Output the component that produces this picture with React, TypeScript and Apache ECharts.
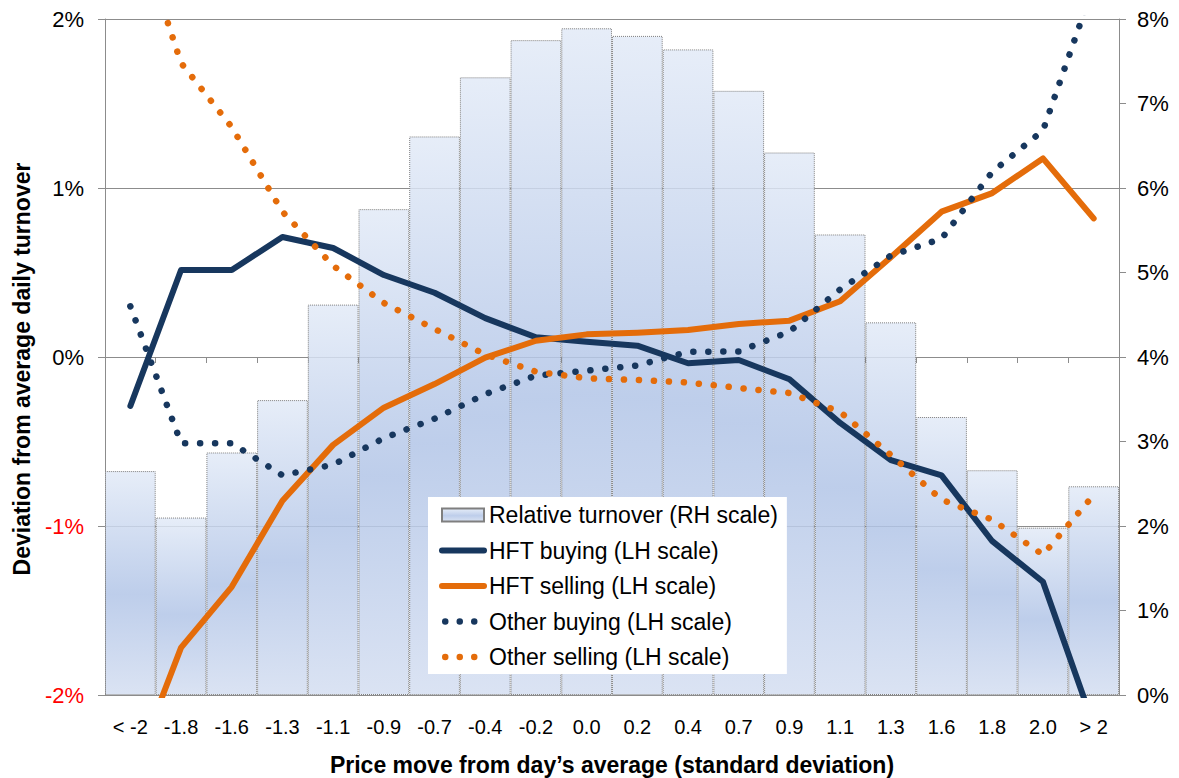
import React, { useEffect, useRef } from "react";
import * as echarts from "echarts";

const categories = ["< -2", "-1.8", "-1.6", "-1.3", "-1.1", "-0.9", "-0.7", "-0.4", "-0.2", "0.0", "0.2", "0.4", "0.7", "0.9", "1.1", "1.3", "1.6", "1.8", "2.0", "> 2"];

// Right-hand scale (% of daily turnover)
const relativeTurnover = [2.65, 2.10, 2.87, 3.49, 4.62, 5.75, 6.61, 7.31, 7.75, 7.89, 7.80, 7.64, 7.15, 6.42, 5.45, 4.41, 3.29, 2.66, 1.98, 2.47];

// Left-hand scale (% deviation)
const hftBuying = [-0.29, 0.515, 0.515, 0.71, 0.645, 0.485, 0.38, 0.23, 0.117, 0.09, 0.067, -0.037, -0.018, -0.132, -0.39, -0.61, -0.70, -1.09, -1.33, -2.18];
const hftSelling = [-2.5, -1.72, -1.36, -0.85, -0.52, -0.30, -0.16, -0.004, 0.096, 0.134, 0.144, 0.16, 0.195, 0.215, 0.33, 0.59, 0.86, 0.97, 1.175, 0.82];
const otherBuying = [0.30, -0.51, -0.51, -0.70, -0.637, -0.48, -0.365, -0.22, -0.11, -0.081, -0.05, 0.031, 0.033, 0.15, 0.40, 0.60, 0.70, 1.095, 1.34, 2.2];
const otherSelling = [2.65, 1.74, 1.36, 0.86, 0.54, 0.32, 0.166, 0.015, -0.087, -0.126, -0.136, -0.151, -0.183, -0.213, -0.325, -0.58, -0.844, -0.963, -1.17, -0.817];

const leftAxisRange = { min: -2, max: 2, interval: 1 };
const rightAxisRange = { min: 0, max: 8, interval: 1 };

const NAVY = "#17375e";
const ORANGE = "#e46c0a";
const FONT = "'Liberation Sans', Arial, sans-serif";
const DOTS = [0.1, 14.9];
// three round dots in a 42 x 13 icon box (degenerate moves pin the box size)
const DOT_ICON =
  "path://M0,0L0,0M42,13L42,13" +
  "M0,6.5a3.25,3.25 0 1,0 6.5,0a3.25,3.25 0 1,0 -6.5,0" +
  "M14.5,6.5a3.25,3.25 0 1,0 6.5,0a3.25,3.25 0 1,0 -6.5,0" +
  "M29,6.5a3.25,3.25 0 1,0 6.5,0a3.25,3.25 0 1,0 -6.5,0";

export default function App() {
  const ref = useRef<HTMLDivElement>(null);

  useEffect(() => {
    if (!ref.current) return;
    const chart = echarts.init(ref.current, null, { renderer: "svg" });

    const barGradient = new echarts.graphic.LinearGradient(0, 0, 0, 1, [
      { offset: 0, color: "rgba(226,234,247,0.85)" },
      { offset: 0.55, color: "rgba(178,197,231,0.85)" },
      { offset: 1, color: "rgba(212,222,241,0.85)" },
    ]);

    const hiddenSymbol = { opacity: 0, borderWidth: 0 };

    const option: any = {
      animation: false,
      backgroundColor: "#ffffff",
      textStyle: { fontFamily: FONT },
      grid: { left: 105, right: 60, top: 19, bottom: 83, outerBoundsMode: "none" },
      legend: {
        orient: "vertical",
        left: 428,
        top: 497,
        backgroundColor: "#ffffff",
        padding: [5, 9, 4, 11],
        itemWidth: 42,
        itemHeight: 13,
        itemGap: 9.5,
        selectedMode: false,
        textStyle: { fontSize: 23, color: "#000", fontFamily: FONT, lineHeight: 26 },
        lineStyle: { width: "inherit" },
        data: [
          { name: "Relative turnover (RH scale)", icon: "rect" },
          { name: "HFT buying (LH scale)", itemStyle: hiddenSymbol },
          { name: "HFT selling (LH scale)", itemStyle: hiddenSymbol },
          { name: "Other buying (LH scale)", icon: DOT_ICON, itemStyle: { color: NAVY, borderWidth: 0 } },
          { name: "Other selling (LH scale)", icon: DOT_ICON, itemStyle: { color: ORANGE, borderWidth: 0 } },
        ],
      },
      xAxis: {
        type: "category",
        data: categories,
        boundaryGap: true,
        name: "Price move from day\u2019s average (standard deviation)",
        nameLocation: "middle",
        nameGap: 58,
        nameTextStyle: { fontSize: 23, fontWeight: "bold", color: "#000", fontFamily: FONT },
        axisLine: { show: true, lineStyle: { color: "#8c8c8c", width: 1 } },
        axisTick: { show: true, length: 6, alignWithLabel: false, lineStyle: { color: "#8c8c8c" } },
        axisLabel: { interval: 0, fontSize: 20, color: "#000", margin: 22, fontFamily: FONT },
        splitLine: { show: false },
      },
      yAxis: [
        {
          type: "value",
          position: "left",
          min: leftAxisRange.min,
          max: leftAxisRange.max,
          interval: leftAxisRange.interval,
          name: "Deviation from average daily turnover",
          nameLocation: "middle",
          nameGap: 72,
          nameTextStyle: { fontSize: 23, fontWeight: "bold", color: "#000", fontFamily: FONT, padding: [0, 24, 0, 0] },
          axisLine: { show: true, lineStyle: { color: "#8c8c8c", width: 1 } },
          axisTick: { show: true, length: 7, lineStyle: { color: "#8c8c8c" } },
          axisLabel: {
            fontSize: 22,
            margin: 21,
            fontFamily: FONT,
            formatter: (v: number) => `${Math.round(v)}%`,
            color: (v: any) => (Number(v) < 0 ? "#ff0000" : "#000000"),
          },
          splitLine: { show: true, lineStyle: { color: "#8c8c8c", width: 1 } },
        },
        {
          type: "value",
          position: "right",
          min: rightAxisRange.min,
          max: rightAxisRange.max,
          interval: rightAxisRange.interval,
          axisLine: { show: true, lineStyle: { color: "#8c8c8c", width: 1 } },
          axisTick: { show: true, length: 7, lineStyle: { color: "#8c8c8c" } },
          axisLabel: {
            fontSize: 22,
            margin: 18,
            color: "#000",
            fontFamily: FONT,
            formatter: (v: number) => `${Math.round(v)}%`,
          },
          splitLine: { show: false },
        },
      ],
      series: [
        {
          name: "Relative turnover (RH scale)",
          type: "bar",
          yAxisIndex: 1,
          data: relativeTurnover,
          barCategoryGap: "0%",
          itemStyle: {
            color: barGradient,
            borderColor: "#7f7f7f",
            borderWidth: 1,
            borderType: "dotted",
          },
        },
        {
          name: "HFT buying (LH scale)",
          type: "line",
          yAxisIndex: 0,
          data: hftBuying,
          symbol: "none",
          clip: true,
          color: NAVY,
          lineStyle: { color: NAVY, width: 6, cap: "round", join: "round" },
        },
        {
          name: "HFT selling (LH scale)",
          type: "line",
          yAxisIndex: 0,
          data: hftSelling,
          symbol: "none",
          clip: true,
          color: ORANGE,
          lineStyle: { color: ORANGE, width: 6, cap: "round", join: "round" },
        },
        {
          name: "Other buying (LH scale)",
          type: "line",
          yAxisIndex: 0,
          data: otherBuying,
          symbol: "none",
          clip: true,
          color: NAVY,
          lineStyle: { color: NAVY, width: 6.5, type: DOTS, cap: "round", join: "round" },
        },
        {
          name: "Other selling (LH scale)",
          type: "line",
          yAxisIndex: 0,
          data: otherSelling,
          symbol: "none",
          clip: true,
          color: ORANGE,
          lineStyle: { color: ORANGE, width: 6.5, type: DOTS, cap: "round", join: "round" },
        },
      ],
    };

    chart.setOption(option);
    return () => chart.dispose();
  }, []);

  return (
    <div
      ref={ref}
      style={{ position: "fixed", left: 0, top: 0, width: 1179, height: 778, background: "#fff" }}
    />
  );
}
